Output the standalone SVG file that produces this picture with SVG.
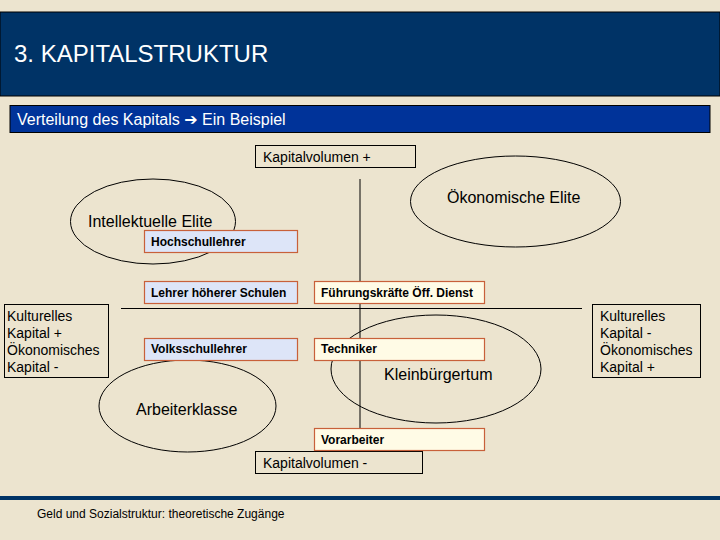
<svg xmlns="http://www.w3.org/2000/svg" width="720" height="540" viewBox="0 0 720 540">
<style>
text{font-family:"Liberation Sans",Arial,sans-serif;fill:#000}
.ell{fill:none;stroke:#000;stroke-width:1}
.lab{font-size:16px}
.side{font-size:14px}
.box{stroke:#000;stroke-width:1;fill:none}
.blue{fill:#DDE5F8;stroke:#C8603A;stroke-width:1.2}
.cream{fill:#FFFBE6;stroke:#C8603A;stroke-width:1.2}
.bl{font-size:12px;font-weight:bold}
</style>
<rect x="0" y="0" width="720" height="540" fill="#ECE4CF"/>
<g id="title">
<rect x="0" y="12" width="720" height="84" fill="#003366" stroke="#000" stroke-width="1"/>
<text x="14" y="62" style="font-size:24px;fill:#fff">3. KAPITALSTRUKTUR</text>
</g>
<g id="subtitle">
<rect x="10" y="105.5" width="700" height="27" fill="#003399" stroke="#000" stroke-width="1"/>
<text x="17" y="125" style="font-size:16px;fill:#fff">Verteilung des Kapitals <tspan style="font-family:'DejaVu Sans',sans-serif;font-size:16px;fill:#fff">➔</tspan> Ein Beispiel</text>
</g>
<g id="connectors">
<line x1="360" y1="179" x2="360" y2="428" stroke="#000" stroke-width="1"/>
<line x1="121" y1="308.5" x2="582" y2="308.5" stroke="#000" stroke-width="1"/>
</g>
<g id="oekonomische-elite">
<ellipse class="ell" cx="515.5" cy="201.5" rx="105" ry="45.5"/>
<text class="lab" x="447" y="203">Ökonomische Elite</text>
</g>
<g id="intellektuelle-elite">
<ellipse class="ell" cx="153" cy="221.5" rx="82.5" ry="42.5"/>
<text class="lab" x="88" y="227">Intellektuelle Elite</text>
</g>
<g id="arbeiterklasse">
<ellipse class="ell" cx="187.5" cy="406" rx="88.5" ry="46"/>
<text class="lab" x="136" y="415">Arbeiterklasse</text>
</g>
<g id="kleinbuergertum">
<ellipse class="ell" cx="436" cy="369" rx="105" ry="54"/>
<text class="lab" x="384" y="380">Kleinbürgertum</text>
</g>
<g id="kapitalvolumen-plus">
<rect class="box" x="255.5" y="145.5" width="160" height="22"/>
<text x="263" y="162" style="font-size:14px">Kapitalvolumen +</text>
</g>
<g id="kapitalvolumen-minus">
<rect class="box" x="255.5" y="451.5" width="167" height="22"/>
<text x="263" y="468" style="font-size:14px">Kapitalvolumen -</text>
</g>
<g id="links">
<rect class="box" x="4.5" y="304.5" width="104" height="73"/>
<text class="side" x="7" y="321">Kulturelles</text>
<text class="side" x="7" y="338">Kapital +</text>
<text class="side" x="7" y="355">Ökonomisches</text>
<text class="side" x="7" y="372">Kapital -</text>
</g>
<g id="rechts">
<rect class="box" x="592.5" y="304.5" width="108" height="73"/>
<text class="side" x="600" y="321">Kulturelles</text>
<text class="side" x="600" y="338">Kapital -</text>
<text class="side" x="600" y="355">Ökonomisches</text>
<text class="side" x="600" y="372">Kapital +</text>
</g>
<g id="hochschullehrer">
<rect class="blue" x="144.5" y="230.5" width="153" height="22"/>
<text class="bl" x="151" y="246">Hochschullehrer</text>
</g>
<g id="lehrer-hoeherer-schulen">
<rect class="blue" x="144.5" y="281.5" width="153" height="22"/>
<text class="bl" x="151" y="297">Lehrer höherer Schulen</text>
</g>
<g id="volksschullehrer">
<rect class="blue" x="144.5" y="338.5" width="153" height="22"/>
<text class="bl" x="151" y="353">Volksschullehrer</text>
</g>
<g id="fuehrungskraefte">
<rect class="cream" x="314.5" y="281.5" width="170" height="22"/>
<text class="bl" x="321" y="297">Führungskräfte Öff. Dienst</text>
</g>
<g id="techniker">
<rect class="cream" x="314.5" y="338.5" width="170" height="22"/>
<text class="bl" x="321" y="353">Techniker</text>
</g>
<g id="vorarbeiter">
<rect class="cream" x="314.5" y="428.5" width="170" height="22"/>
<text class="bl" x="321" y="444">Vorarbeiter</text>
</g>
<g id="footer">
<rect x="0" y="496" width="720" height="4" fill="#003366"/>
<text x="37" y="518" style="font-size:12px">Geld und Sozialstruktur: theoretische Zugänge</text>
</g>
</svg>
